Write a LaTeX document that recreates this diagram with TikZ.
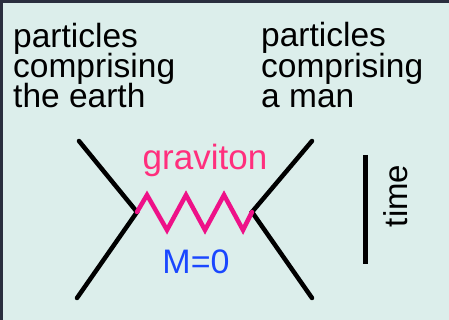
\documentclass[tikz,border=0pt]{standalone}
\usepackage{fontspec}
\setmainfont{Liberation Sans}
\definecolor{frame}{HTML}{2A2E3E}
\definecolor{bg}{HTML}{DCEEEB}
\definecolor{gravtext}{HTML}{FF2F7D}
\definecolor{zig}{HTML}{EE1188}
\definecolor{massblue}{HTML}{1A47FF}
\tikzset{
  lbl/.style={inner sep=0pt, anchor=base west, font=\fontsize{33.5}{33.5}\selectfont},
  worldline/.style={line width=4.5pt, line cap=round, black},
  gline/.style={line width=4.5pt, zig, line join=miter, line cap=round},
}
\begin{document}
\begin{tikzpicture}[x=1pt,y=-1pt]
\useasboundingbox (0,0) rectangle (449,320);
\fill[frame] (0,0) rectangle (449,320);
\fill[bg] (3,3) rectangle (449,320);
% labels
\node[lbl] (l1) at (13,48) {particles};
\node[lbl] (l2) at (13,78) {comprising};
\node[lbl] (l3) at (13,108) {the earth};
\node[lbl] (r1) at (261,47) {particles};
\node[lbl] (r2) at (261,78) {comprising};
\node[lbl] (r3) at (261,108) {a man};
\node[inner sep=0pt, anchor=base, text=gravtext, font=\fontsize{35}{35}\selectfont] (grav) at (205,170) {graviton};
\node[inner sep=0pt, anchor=base, text=massblue, font=\fontsize{34}{34}\selectfont] (mass) at (196,273) {M=0};
\node[inner sep=0pt, anchor=base, rotate=90, font=\fontsize{33}{33}\selectfont] (time) at (407,196) {time};
% vertices and ends
\coordinate (va) at (137,212);
\coordinate (vb) at (252,212);
\coordinate (a1) at (79,141);
\coordinate (a2) at (77,298);
\coordinate (b1) at (312,141);
\coordinate (b2) at (312,298);
\draw[worldline] (a1) -- (va) -- (a2);
\draw[worldline] (b1) -- (vb) -- (b2);
\draw[gline] (va) -- (147,195) -- (167,230) -- (186,195) -- (205,230) -- (224,195) -- (243,230) -- (vb);
% time bar
\coordinate (t1) at (365,155);
\coordinate (t2) at (365,264);
\draw[line width=5pt, black] (t1) -- (t2);
\end{tikzpicture}
\end{document}
